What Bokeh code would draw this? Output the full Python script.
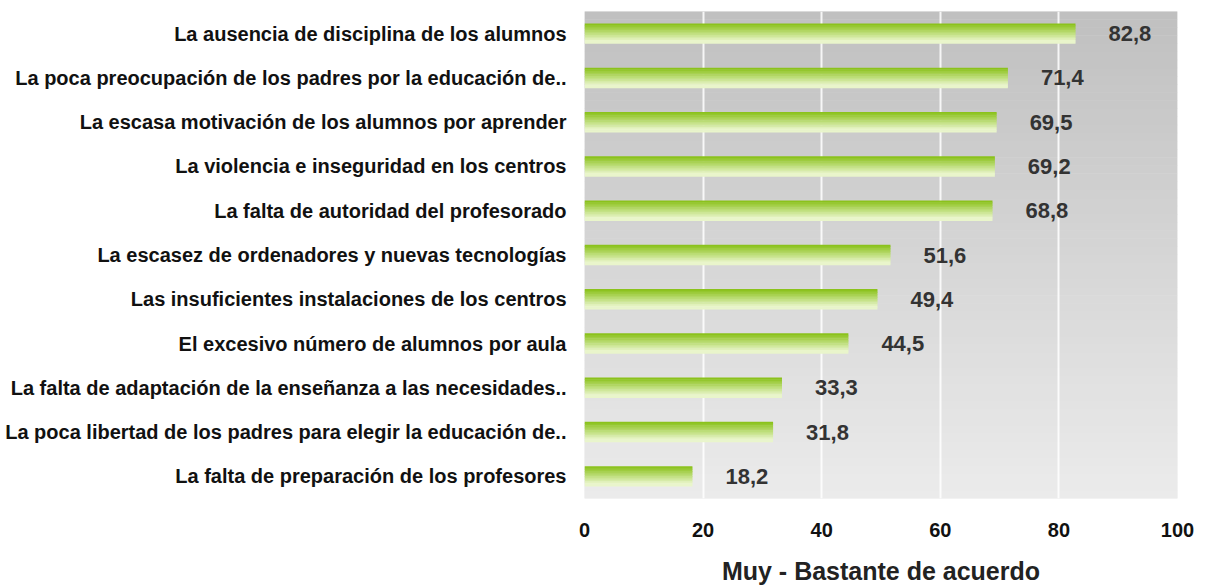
from bokeh.plotting import figure
from bokeh.models import ColumnDataSource, FixedTicker, Range1d
from bokeh.core.properties import value
from bokeh.embed import file_html
from bokeh.resources import INLINE

categories = [
    "La ausencia de disciplina de los alumnos",
    "La poca preocupación de los padres por la educación de..",
    "La escasa motivación de los alumnos por aprender",
    "La violencia e inseguridad en los centros",
    "La falta de autoridad del profesorado",
    "La escasez de ordenadores y nuevas tecnologías",
    "Las insuficientes instalaciones de los centros",
    "El excesivo número de alumnos por aula",
    "La falta de adaptación de la enseñanza a las necesidades..",
    "La poca libertad de los padres para elegir la educación de..",
    "La falta de preparación de los profesores",
]
values = [82.8, 71.4, 69.5, 69.2, 68.8, 51.6, 49.4, 44.5, 33.3, 31.8, 18.2]
value_labels = ["82,8", "71,4", "69,5", "69,2", "68,8", "51,6", "49,4", "44,5", "33,3", "31,8", "18,2"]
x_ticks = [0, 20, 40, 60, 80, 100]
x_title = "Muy - Bastante de acuerdo"

n = len(categories)
ypos = [n - 1 - i for i in range(n)]

FONT = "Liberation Sans"


def lerp_color(c1, c2, t):
    a = [int(c1[i:i + 2], 16) for i in (1, 3, 5)]
    b = [int(c2[i:i + 2], 16) for i in (1, 3, 5)]
    return "#%02x%02x%02x" % tuple(int(round(a[k] + (b[k] - a[k]) * t)) for k in range(3))


p = figure(width=1195, height=587, output_backend="svg", toolbar_location=None,
           x_range=Range1d(0, 100), y_range=Range1d(-0.5, n - 0.5),
           min_border_left=584, min_border_right=18, min_border_top=11, min_border_bottom=89)
p.outline_line_color = None
p.background_fill_color = "#ececec"

# background vertical gradient (darker at top)
strips = 60
y0 = -0.5
h = n / strips
bg = dict(bottom=[], top=[], color=[])
for k in range(strips):
    bg["bottom"].append(y0 + k * h)
    bg["top"].append(y0 + (k + 1) * h + 0.01)
    bg["color"].append(lerp_color("#ebebeb", "#c0c0c0", k / (strips - 1)))
r = p.quad(left=0, right=100, bottom="bottom", top="top", color="color",
           source=ColumnDataSource(bg), line_color=None)
r.level = "image"

# bars with vertical gradient
bar_h = 0.45
slices = 12
for s in range(slices):
    t = s / (slices - 1)
    off_top = bar_h / 2 - s * bar_h / slices
    col = lerp_color("#8bc21c", "#e9f5cb", min(1.0, t * 1.1))
    src = ColumnDataSource(dict(y=[yy + off_top - bar_h / slices / 2 for yy in ypos], v=values))
    p.hbar(y="y", right="v", left=0, height=bar_h / slices + 0.012, source=src,
           color=col, line_color=None)

lab_src = ColumnDataSource(dict(y=ypos, v=values, t=value_labels))
p.text(x="v", y="y", text="t", source=lab_src, x_offset=33, y_offset=0,
       text_align="left", text_baseline="middle", text_font=value(FONT),
       text_font_size="22px", text_font_style="bold", text_color="#333333")

p.xgrid.ticker = FixedTicker(ticks=x_ticks[1:-1])
p.xgrid.grid_line_color = "#ffffff"
p.xgrid.grid_line_width = 2
p.xgrid.grid_line_alpha = 0.85
p.ygrid.grid_line_color = None

p.xaxis.ticker = FixedTicker(ticks=x_ticks)
p.xaxis.axis_line_color = None
p.xaxis.major_tick_line_color = None
p.xaxis.minor_tick_line_color = None
p.xaxis.major_label_text_font = FONT
p.xaxis.major_label_text_font_size = "20px"
p.xaxis.major_label_text_font_style = "bold"
p.xaxis.major_label_text_color = "#111111"
p.xaxis.major_label_standoff = 18
p.xaxis.axis_label = x_title
p.xaxis.axis_label_text_font = FONT
p.xaxis.axis_label_text_font_size = "25px"
p.xaxis.axis_label_text_font_style = "bold"
p.xaxis.axis_label_text_color = "#222222"
p.xaxis.axis_label_standoff = 17

p.yaxis.ticker = FixedTicker(ticks=ypos)
p.yaxis.major_label_overrides = {yy: c for yy, c in zip(ypos, categories)}
p.yaxis.axis_line_color = None
p.yaxis.major_tick_line_color = None
p.yaxis.minor_tick_line_color = None
p.yaxis.major_label_text_font = FONT
p.yaxis.major_label_text_font_size = "20px"
p.yaxis.major_label_text_font_style = "bold"
p.yaxis.major_label_text_color = "#111111"
p.yaxis.major_label_standoff = 12

open("out.html", "w").write(file_html(p, INLINE))
